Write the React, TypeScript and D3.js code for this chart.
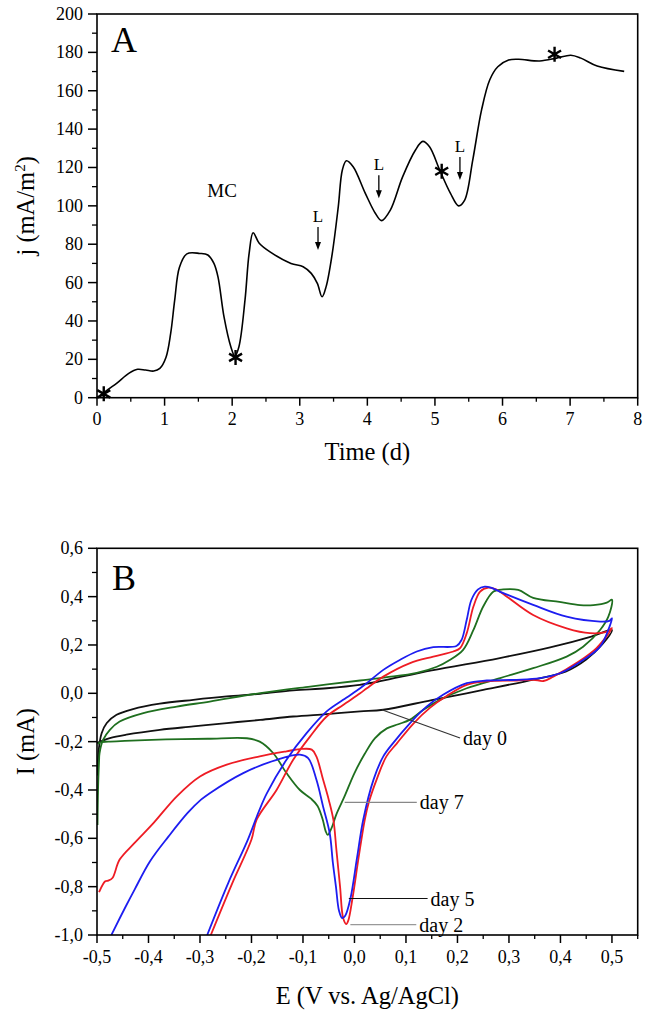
import React from "react";
import * as d3 from "d3";

// ---------- Panel A data ----------
const timeDays = [0.04, 0.17, 0.29, 0.47, 0.6, 0.72, 0.84, 0.93, 1.02, 1.09, 1.15, 1.22, 1.33, 1.52, 1.64, 1.73, 1.79, 1.88, 1.98, 2.04, 2.1, 2.19, 2.25, 2.31, 2.4, 2.56, 2.87, 3.05, 3.17, 3.26, 3.33, 3.39, 3.48, 3.57, 3.63, 3.69, 3.79, 3.97, 4.12, 4.21, 4.34, 4.52, 4.71, 4.82, 4.92, 5.07, 5.23, 5.35, 5.44, 5.56, 5.69, 5.81, 5.93, 6.09, 6.24, 6.55, 6.8, 7.01, 7.16, 7.4, 7.8];
const currentDensity = [1, 4.5, 7.5, 12.7, 14.8, 14.4, 13.9, 15.3, 21, 33.5, 51, 68, 75, 75.2, 74.4, 70, 63, 42, 26.6, 21.7, 26.6, 51, 75, 86, 80.5, 76, 70, 68.3, 64.8, 59.6, 52.6, 57.9, 75, 99.6, 118.7, 123.5, 120.4, 106.5, 96, 92.3, 97.8, 115, 129, 133.6, 130.8, 118.7, 106.5, 100, 103, 124, 150, 165.6, 172.5, 176, 176.4, 175.5, 177, 178.5, 177, 172.9, 170.1];
const starPointsA: [number, number][] = [[0.1, 2], [2.05, 21], [5.1, 118], [6.77, 179]];
const lMarkersA: { x: number; tip: number }[] = [
  { x: 3.27, tip: 77 },
  { x: 4.17, tip: 104 },
  { x: 5.37, tip: 113.5 },
];
const xTicksA = [0, 1, 2, 3, 4, 5, 6, 7, 8];
const yTicksA = [0, 20, 40, 60, 80, 100, 120, 140, 160, 180, 200];

// ---------- Panel B data (E in V, I in mA), in scan order ----------
const day0: [number, number][] = [
  [-0.499, -0.34], [-0.497, -0.24], [-0.491, -0.165], [-0.481, -0.123], [-0.462, -0.089], [-0.43, -0.065], [-0.378, -0.043], [-0.313, -0.027], [-0.248, -0.013], [-0.183, -0.002], [-0.119, 0.012], [-0.054, 0.021], [0.01, 0.035], [0.05, 0.05], [0.15, 0.095], [0.28, 0.145], [0.38, 0.19], [0.46, 0.235], [0.5, 0.262],
  [0.48, 0.2], [0.45, 0.14], [0.41, 0.09], [0.35, 0.058], [0.25, 0.014], [0.15, -0.028], [0.056, -0.068], [0.011, -0.075], [-0.054, -0.086], [-0.119, -0.096], [-0.183, -0.11], [-0.248, -0.123], [-0.313, -0.137], [-0.378, -0.151], [-0.443, -0.171], [-0.475, -0.185], [-0.494, -0.2], [-0.5, -0.205],
];
const day7: [number, number][] = [
  [-0.499, -0.545], [-0.498, -0.4], [-0.496, -0.28], [-0.495, -0.247], [-0.488, -0.192], [-0.475, -0.151], [-0.456, -0.117], [-0.41, -0.082], [-0.345, -0.055], [-0.281, -0.034], [-0.183, 0.001], [-0.086, 0.028], [0.011, 0.053], [0.06, 0.066], [0.121, 0.085], [0.16, 0.11], [0.185, 0.138], [0.211, 0.18], [0.231, 0.262], [0.25, 0.359], [0.27, 0.421], [0.289, 0.43], [0.318, 0.428], [0.347, 0.395], [0.398, 0.378], [0.438, 0.365], [0.464, 0.365], [0.49, 0.375], [0.5, 0.387],
  [0.493, 0.317], [0.477, 0.262], [0.444, 0.193], [0.412, 0.152], [0.347, 0.104], [0.283, 0.063], [0.218, 0.021], [0.166, -0.027], [0.134, -0.068], [0.108, -0.109], [0.085, -0.128], [0.063, -0.145], [0.04, -0.185], [0.02, -0.25], [0.0, -0.33], [-0.02, -0.43], [-0.035, -0.5], [-0.045, -0.56], [-0.052, -0.586], [-0.056, -0.57], [-0.062, -0.52], [-0.072, -0.465], [-0.085, -0.435], [-0.106, -0.4], [-0.132, -0.33], [-0.158, -0.247], [-0.184, -0.2], [-0.209, -0.186], [-0.285, -0.188], [-0.366, -0.191], [-0.446, -0.197], [-0.478, -0.2], [-0.494, -0.203], [-0.498, -0.21],
];
const day2: [number, number][] = [
  [-0.279, -1.0], [-0.237, -0.784], [-0.2, -0.605], [-0.19, -0.523], [-0.151, -0.399], [-0.119, -0.275], [-0.086, -0.178], [-0.054, -0.096], [-0.022, -0.048], [0.011, 0.0], [0.024, 0.021], [0.056, 0.069], [0.108, 0.125], [0.153, 0.152], [0.192, 0.173], [0.205, 0.187], [0.218, 0.249], [0.231, 0.359], [0.244, 0.421], [0.26, 0.437], [0.275, 0.43], [0.296, 0.4], [0.347, 0.324], [0.412, 0.269], [0.457, 0.249], [0.49, 0.255], [0.5, 0.27],
  [0.47, 0.187], [0.431, 0.125], [0.386, 0.069], [0.367, 0.051], [0.347, 0.056], [0.315, 0.053], [0.257, 0.049], [0.218, 0.035], [0.179, -0.011], [0.147, -0.059], [0.114, -0.126], [0.082, -0.208], [0.062, -0.261], [0.043, -0.357], [0.028, -0.45], [0.02, -0.523], [0.008, -0.68], [-0.004, -0.85], [-0.012, -0.94], [-0.016, -0.955], [-0.022, -0.93], [-0.028, -0.8], [-0.035, -0.65], [-0.041, -0.523], [-0.05, -0.44], [-0.061, -0.357], [-0.074, -0.261], [-0.083, -0.233], [-0.106, -0.231], [-0.132, -0.24], [-0.184, -0.261], [-0.248, -0.295], [-0.3, -0.344], [-0.345, -0.426], [-0.39, -0.536], [-0.427, -0.619], [-0.456, -0.688], [-0.47, -0.764], [-0.478, -0.775], [-0.484, -0.778], [-0.496, -0.823],
];
const day5: [number, number][] = [
  [-0.286, -1.0], [-0.245, -0.784], [-0.207, -0.605], [-0.186, -0.49], [-0.17, -0.413], [-0.132, -0.275], [-0.093, -0.165], [-0.054, -0.075], [-0.022, -0.027], [0.011, 0.021], [0.024, 0.042], [0.056, 0.097], [0.088, 0.138], [0.121, 0.173], [0.153, 0.191], [0.198, 0.196], [0.208, 0.221], [0.218, 0.304], [0.227, 0.386], [0.24, 0.43], [0.253, 0.441], [0.265, 0.437], [0.282, 0.421], [0.347, 0.366], [0.412, 0.317], [0.477, 0.297], [0.495, 0.3], [0.5, 0.31],
  [0.496, 0.28], [0.477, 0.193], [0.444, 0.138], [0.399, 0.083], [0.36, 0.063], [0.315, 0.056], [0.257, 0.053], [0.218, 0.042], [0.172, -0.006], [0.14, -0.055], [0.108, -0.123], [0.075, -0.206], [0.056, -0.261], [0.037, -0.357], [0.017, -0.523], [0.005, -0.68], [-0.008, -0.85], [-0.018, -0.92], [-0.024, -0.93], [-0.03, -0.9], [-0.036, -0.8], [-0.042, -0.7], [-0.048, -0.58], [-0.061, -0.468], [-0.074, -0.357], [-0.09, -0.268], [-0.106, -0.254], [-0.151, -0.275], [-0.216, -0.33], [-0.281, -0.413], [-0.298, -0.44], [-0.324, -0.495], [-0.361, -0.592], [-0.397, -0.695], [-0.427, -0.812], [-0.444, -0.881], [-0.47, -0.991], [-0.472, -1.0],
];
const seriesB = [
  { name: "day 0", data: day0, color: "#111111" },
  { name: "day 7", data: day7, color: "#1f6f1f" },
  { name: "day 2", data: day2, color: "#ee1c24" },
  { name: "day 5", data: day5, color: "#1d1df0" },
];
// leader labels: start point (E,I) of leader, end point, label
const leadersB = [
  { label: "day 0", from: [0.053, -0.068], to: [0.205, -0.185], color: "#333" },
  { label: "day 7", from: [-0.019, -0.451], to: [0.121, -0.451], color: "#888" },
  { label: "day 5", from: [-0.011, -0.849], to: [0.142, -0.849], color: "#111" },
  { label: "day 2", from: [-0.008, -0.957], to: [0.12, -0.957], color: "#999" },
];
const xTicksB = [-0.5, -0.4, -0.3, -0.2, -0.1, 0, 0.1, 0.2, 0.3, 0.4, 0.5];
const yTicksB = [-1.0, -0.8, -0.6, -0.4, -0.2, 0, 0.2, 0.4, 0.6];

const FONT = "'Liberation Serif', 'Times New Roman', serif";

function fmtComma(v: number) {
  let r = Math.round(v * 10) / 10;
  if (Object.is(r, -0)) r = 0;
  return r.toFixed(1).replace(".", ",");
}

function Star({ x, y }: { x: number; y: number }) {
  const r = 7.5;
  const c = Math.cos(Math.PI / 6) * r;
  const s = Math.sin(Math.PI / 6) * r;
  return (
    <path
      d={`M${x},${y - r}L${x},${y + r}M${x - c},${y - s}L${x + c},${y + s}M${x - c},${y + s}L${x + c},${y - s}`}
      stroke="#000"
      strokeWidth={2.4}
    />
  );
}

export default function App() {
  const L = 97, R = 637.7;
  // Panel A
  const aTop = 14, aBot = 397.7;
  const xA = d3.scaleLinear().domain([0, 8]).range([L, R]);
  const yA = d3.scaleLinear().domain([0, 200]).range([aBot, aTop]);
  const lineA = d3.line<number>().x((_, i) => xA(timeDays[i])).y((d) => yA(d)).curve(d3.curveCatmullRom.alpha(0.5));
  const xMinorA = d3.range(0.5, 8, 1);
  const yMinorA = d3.range(10, 200, 20);

  // Panel B
  const bTop = 548.3, bBot = 935;
  const xB = d3.scaleLinear().domain([-0.5, 0.55]).range([L, R]);
  const yB = d3.scaleLinear().domain([-1.0, 0.6]).range([bBot, bTop]);
  const lineB = d3.line<[number, number]>().x((d) => xB(d[0])).y((d) => yB(d[1])).curve(d3.curveCatmullRom.alpha(0.5));
  const xMinorB = d3.range(-0.45, 0.56, 0.1);
  const yMinorB = d3.range(-0.9, 0.6, 0.2);

  const tickFont = 18;
  const titleFont = 24.5;

  return (
    <svg width={650} height={1012} style={{ position: "absolute", left: 0, top: 0, background: "#fff" }} fontFamily={FONT}>
      <rect x={0} y={0} width={650} height={1012} fill="#fff" />
      {/* ===== Panel A ===== */}
      <g>
        <path d={lineA(currentDensity) || ""} fill="none" stroke="#000" strokeWidth={1.6} />
        <rect x={L} y={aTop} width={R - L} height={aBot - aTop} fill="none" stroke="#000" strokeWidth={1.6} />
        {xTicksA.map((t) => (
          <g key={"xa" + t}>
            <line x1={xA(t)} x2={xA(t)} y1={aBot} y2={aBot + 8} stroke="#000" strokeWidth={1.5} />
            <text x={xA(t)} y={aBot + 27} fontSize={tickFont} textAnchor="middle">{t}</text>
          </g>
        ))}
        {xMinorA.map((t) => (
          <line key={"xam" + t} x1={xA(t)} x2={xA(t)} y1={aBot} y2={aBot + 4} stroke="#000" strokeWidth={1.3} />
        ))}
        {yTicksA.map((t) => (
          <g key={"ya" + t}>
            <line x1={L - 9} x2={L} y1={yA(t)} y2={yA(t)} stroke="#000" strokeWidth={1.5} />
            <text x={L - 14} y={yA(t) + 6} fontSize={tickFont} textAnchor="end">{t}</text>
          </g>
        ))}
        {yMinorA.map((t) => (
          <line key={"yam" + t} x1={L - 5} x2={L} y1={yA(t)} y2={yA(t)} stroke="#000" strokeWidth={1.3} />
        ))}
        <text x={(L + R) / 2} y={460} fontSize={titleFont} textAnchor="middle">Time (d)</text>
        <text transform={`translate(34, ${(aTop + aBot) / 2}) rotate(-90)`} fontSize={titleFont} textAnchor="middle">
          j (mA/m<tspan dy={-9} fontSize={15}>2</tspan><tspan dy={9}>)</tspan>
        </text>
        <text x={111} y={52} fontSize={36}>A</text>
        <text x={xA(1.85)} y={yA(104.6)} fontSize={19} textAnchor="middle">MC</text>
        {lMarkersA.map((m, i) => {
          const px = xA(m.x);
          const tipY = yA(m.tip);
          return (
            <g key={"l" + i}>
              <text x={px} y={tipY - 28} fontSize={17} textAnchor="middle">L</text>
              <line x1={px} x2={px} y1={tipY - 23} y2={tipY - 6} stroke="#000" strokeWidth={1.3} />
              <path d={`M${px - 3},${tipY - 8}L${px + 3},${tipY - 8}L${px},${tipY}Z`} fill="#000" />
            </g>
          );
        })}
        {starPointsA.map((p, i) => (
          <Star key={"s" + i} x={xA(p[0])} y={yA(p[1])} />
        ))}
      </g>

      {/* ===== Panel B ===== */}
      <g>
        <defs>
          <clipPath id="clipB">
            <rect x={L} y={bTop} width={R - L} height={bBot - bTop} />
          </clipPath>
        </defs>
        <g clipPath="url(#clipB)">
          {seriesB.map((s) => (
            <path key={s.name} d={lineB(s.data) || ""} fill="none" stroke={s.color} strokeWidth={1.8} strokeLinejoin="round" />
          ))}
        </g>
        {leadersB.map((l) => (
          <g key={l.label}>
            <line x1={xB(l.from[0])} y1={yB(l.from[1])} x2={xB(l.to[0])} y2={yB(l.to[1])} stroke={l.color} strokeWidth={1.2} />
            <text x={xB(l.to[0]) + 3} y={yB(l.to[1]) + 7} fontSize={20}>{l.label}</text>
          </g>
        ))}
        <rect x={L} y={bTop} width={R - L} height={bBot - bTop} fill="none" stroke="#000" strokeWidth={1.6} />
        {xTicksB.map((t) => (
          <g key={"xb" + t}>
            <line x1={xB(t)} x2={xB(t)} y1={bBot} y2={bBot + 8} stroke="#000" strokeWidth={1.5} />
            <text x={xB(t)} y={bBot + 28} fontSize={tickFont} textAnchor="middle">{fmtComma(t)}</text>
          </g>
        ))}
        {xMinorB.map((t) => (
          <line key={"xbm" + t} x1={xB(t)} x2={xB(t)} y1={bBot} y2={bBot + 4} stroke="#000" strokeWidth={1.3} />
        ))}
        {yTicksB.map((t) => (
          <g key={"yb" + t}>
            <line x1={L - 9} x2={L} y1={yB(t)} y2={yB(t)} stroke="#000" strokeWidth={1.5} />
            <text x={L - 14} y={yB(t) + 6} fontSize={tickFont} textAnchor="end">{fmtComma(t)}</text>
          </g>
        ))}
        {yMinorB.map((t) => (
          <line key={"ybm" + t} x1={L - 5} x2={L} y1={yB(t)} y2={yB(t)} stroke="#000" strokeWidth={1.3} />
        ))}
        <text x={(L + R) / 2} y={1004} fontSize={titleFont} textAnchor="middle">E (V vs. Ag/AgCl)</text>
        <text transform={`translate(34, ${(bTop + bBot) / 2}) rotate(-90)`} fontSize={titleFont} textAnchor="middle">I (mA)</text>
        <text x={112} y={590} fontSize={36}>B</text>
      </g>
    </svg>
  );
}
